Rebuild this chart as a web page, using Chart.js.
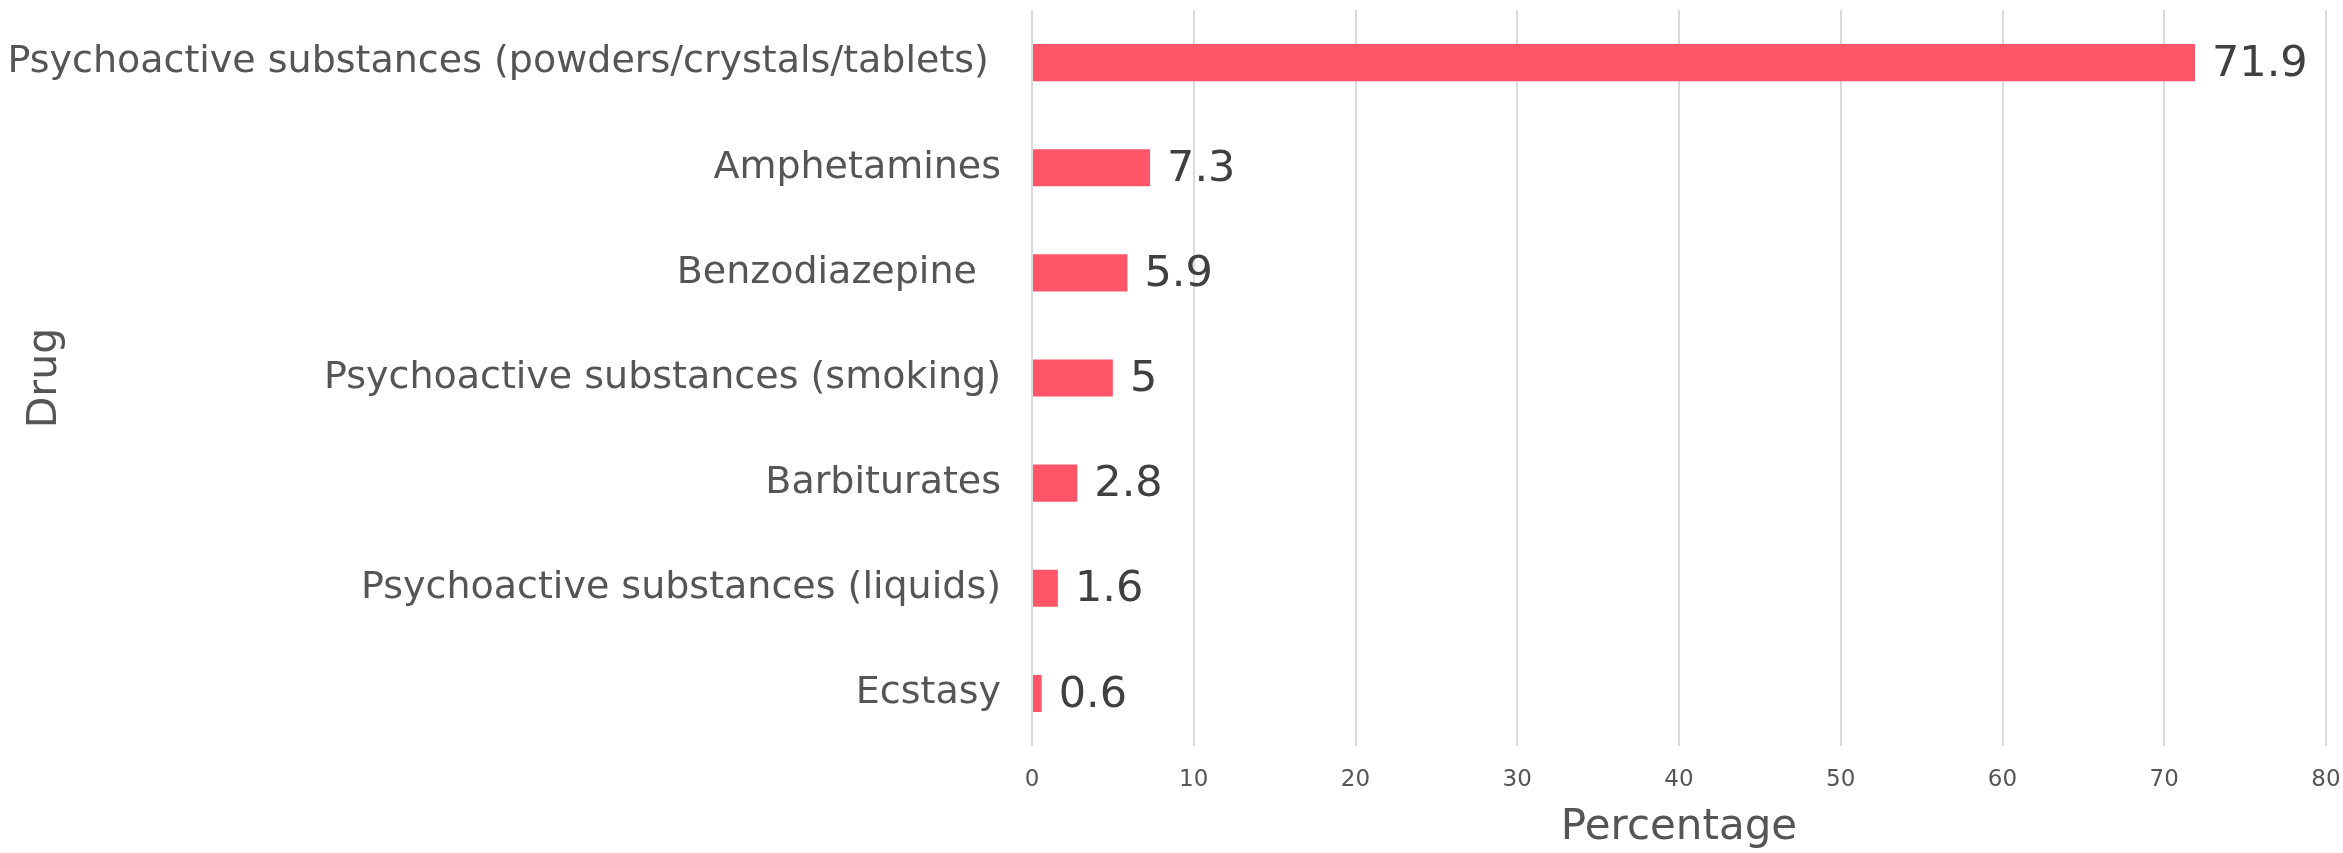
<!DOCTYPE html>
<html>
<head>
<meta charset="utf-8">
<script src="https://cdn.jsdelivr.net/npm/chart.js@4"></script>
<style>
  html, body { margin: 0; padding: 0; background: #fff; }
  #wrap { width: 2343px; height: 853px; }
</style>
</head>
<body>
<div id="wrap"><canvas id="myChart"></canvas></div>
<script>
// drug categories, top to bottom
const drugs = [
    'Psychoactive substances (powders/crystals/tablets) ',
    'Amphetamines',
    'Benzodiazepine  ',
    'Psychoactive substances (smoking)',
    'Barbiturates',
    'Psychoactive substances (liquids)',
    'Ecstasy'
];
// percentage per drug
const percentages = [71.9, 7.3, 5.9, 5, 2.8, 1.6, 0.6];
const xTicks = [0, 10, 20, 30, 40, 50, 60, 70, 80];

const barColor = '#FF5569';
const fontFamily = '"DejaVu Sans", Verdana, sans-serif';

// skriver värdet till höger om varje stapel
const valueLabels = {
    id: 'valueLabels',
    afterDatasetsDraw(chart) {
        const ctx = chart.ctx;
        const meta = chart.getDatasetMeta(0);
        ctx.save();
        ctx.font = '43px ' + fontFamily;
        ctx.fillStyle = '#404040';
        ctx.textAlign = 'left';
        ctx.textBaseline = 'middle';
        meta.data.forEach((bar, i) => {
            ctx.fillText(String(percentages[i]), bar.x + 17, bar.y + 2);
        });
        ctx.restore();
    }
};

const data = {
    labels: drugs,
    datasets: [
        {
            label: 'Percentage',
            data: percentages,
            backgroundColor: barColor,
            borderWidth: 0,
            barPercentage: 0.353,
            categoryPercentage: 1
        }
    ]
};

const config = {
    type: 'bar',
    data: data,
    options: {
        indexAxis: 'y',
        responsive: true,
        maintainAspectRatio: false,
        animation: false,
        layout: {
            padding: { top: 10, right: 17, bottom: 0, left: 0 }
        },
        plugins: {
            legend: { display: false },
            tooltip: { enabled: false }
        },
        scales: {
            x: {
                min: 0,
                max: 80,
                afterBuildTicks: (scale) => {
                    scale.ticks = xTicks.map((v) => ({ value: v }));
                },
                afterFit: (scale) => {
                    scale.height = 107;
                    scale.paddingLeft = 0;
                    scale.paddingRight = 0;
                },
                grid: {
                    color: '#dadada',
                    lineWidth: 2,
                    drawTicks: false
                },
                border: { display: false },
                ticks: {
                    padding: 20,
                    color: '#555',
                    font: { family: fontFamily, size: 23 }
                },
                title: {
                    display: true,
                    text: 'Percentage',
                    color: '#555',
                    padding: { top: 0, bottom: 0 },
                    font: { family: fontFamily, size: 42 }
                }
            },
            y: {
                afterFit: (scale) => {
                    scale.width = 1032;
                    scale.paddingTop = 0;
                    scale.paddingBottom = 0;
                },
                grid: { display: false, drawTicks: false },
                border: { display: false },
                ticks: {
                    padding: 31,
                    color: '#555',
                    font: { family: fontFamily, size: 38 }
                },
                title: {
                    display: true,
                    text: 'Drug',
                    color: '#555',
                    padding: { top: 21, bottom: 0 },
                    font: { family: fontFamily, size: 41 }
                }
            }
        }
    },
    plugins: [valueLabels]
};

new Chart(document.getElementById('myChart'), config);
</script>
</body>
</html>
